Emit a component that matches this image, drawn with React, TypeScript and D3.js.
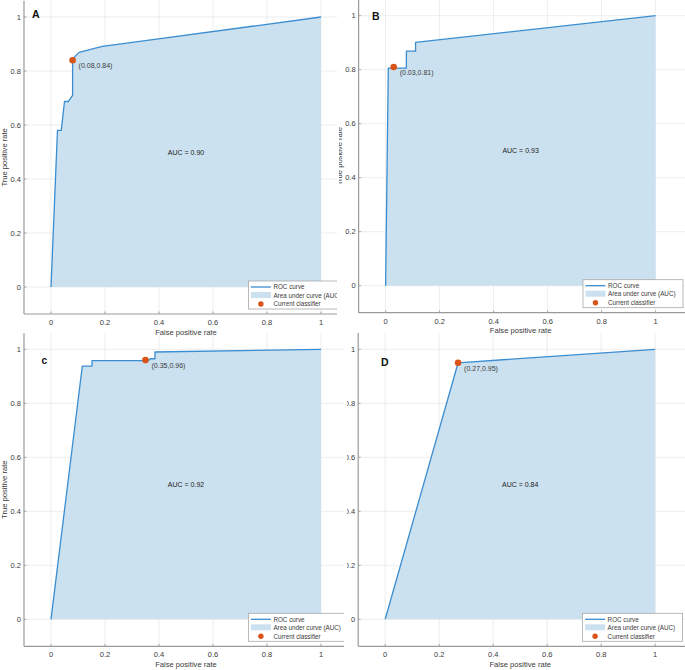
import React from "react";
import * as d3 from "d3";

// ---------- data ----------
const panelLabels = ["A", "B", "c", "D"];

const rocA_fpr = [0, 0.024, 0.038, 0.05, 0.064, 0.08, 0.08, 0.104, 0.19, 0.37, 1];
const rocA_tpr = [0, 0.58, 0.58, 0.687, 0.687, 0.71, 0.845, 0.869, 0.891, 0.915, 1];

const rocB_fpr = [0, 0.01, 0.077, 0.077, 0.111, 0.111, 1];
const rocB_tpr = [0, 0.806, 0.806, 0.869, 0.869, 0.901, 1];

const rocC_fpr = [0, 0.116, 0.152, 0.152, 0.36, 0.368, 0.385, 0.385, 1];
const rocC_tpr = [0, 0.938, 0.938, 0.958, 0.958, 0.965, 0.965, 0.99, 1];

const rocD_fpr = [0, 0.27, 1];
const rocD_tpr = [0, 0.95, 1];

const classifierFpr = [0.08, 0.03, 0.35, 0.27];
const classifierTpr = [0.84, 0.81, 0.96, 0.95];
const classifierLabels = ["(0.08,0.84)", "(0.03,0.81)", "(0.35,0.96)", "(0.27,0.95)"];
const aucLabels = ["AUC = 0.90", "AUC = 0.93", "AUC = 0.92", "AUC = 0.84"];

const tickValues = [0, 0.2, 0.4, 0.6, 0.8, 1];
const tickLabels = ["0", "0.2", "0.4", "0.6", "0.8", "1"];
const legendItems = ["ROC curve", "Area under curve (AUC)", "Current classifier"];
const xLabel = "False positive rate";
const yLabel = "True positive rate";

// ---------- layout ----------
const W = 685;
const H = 670;
const UNIT = 270;
const X_DOMAIN: [number, number] = [-0.1, 1.12];
const Y_DOMAIN: [number, number] = [-0.1, 1.06];

const panels = [
  { fpr: rocA_fpr, tpr: rocA_tpr, x0: 51, y0: 287, clip: [0, 0, 337, 340], letter: [32, 18], letterSize: 10.5 },
  { fpr: rocB_fpr, tpr: rocB_tpr, x0: 385.6, y0: 285.7, clip: [339, 0, 346, 340], letter: [372, 19.5], letterSize: 10.5 },
  { fpr: rocC_fpr, tpr: rocC_tpr, x0: 51, y0: 619.3, clip: [0, 330, 344, 340], letter: [41.5, 363.5], letterSize: 10 },
  { fpr: rocD_fpr, tpr: rocD_tpr, x0: 385.2, y0: 619.3, clip: [347, 330, 338, 340], letter: [381, 366], letterSize: 10.5 },
];

const FONT = "'Liberation Sans', Arial, Helvetica, sans-serif";
const FILL = "#cce1f0";
const LINE = "#3a8dd0";
const DOT = "#d9541a";
const GRID = "#e8e8e8";
const AXIS = "#9a9a9a";
const TEXT = "#3a3a3a";

function Panel({ idx }: { idx: number }) {
  const p = panels[idx];
  const x = d3
    .scaleLinear()
    .domain(X_DOMAIN)
    .range([p.x0 + X_DOMAIN[0] * UNIT, p.x0 + X_DOMAIN[1] * UNIT]);
  const y = d3
    .scaleLinear()
    .domain(Y_DOMAIN)
    .range([p.y0 - Y_DOMAIN[0] * UNIT, p.y0 - Y_DOMAIN[1] * UNIT]);

  const pts: [number, number][] = p.fpr.map((f, i) => [f, p.tpr[i]]);
  const area = d3
    .area<[number, number]>()
    .x((d) => x(d[0]))
    .y0(y(0))
    .y1((d) => y(d[1]));
  const line = d3
    .line<[number, number]>()
    .x((d) => x(d[0]))
    .y((d) => y(d[1]));

  const left = x(X_DOMAIN[0]);
  const right = x(X_DOMAIN[1]);
  const bottom = y(Y_DOMAIN[0]);
  const top = y(Y_DOMAIN[1]);

  const legW = 100;
  const legH = 28;
  const legL = right - 5 - legW;
  const legT = bottom - 5 - legH;

  const cx = x(classifierFpr[idx]);
  const cy = y(classifierTpr[idx]);
  const clipId = `clip-${idx}`;

  return (
    <g clipPath={`url(#${clipId})`}>
      <defs>
        <clipPath id={clipId}>
          <rect x={p.clip[0]} y={p.clip[1]} width={p.clip[2]} height={p.clip[3]} />
        </clipPath>
      </defs>
      {/* grid */}
      {tickValues.map((t) => (
        <line key={`gx${t}`} x1={x(t)} x2={x(t)} y1={top} y2={bottom} stroke={GRID} strokeWidth={0.8} />
      ))}
      {tickValues.map((t) => (
        <line key={`gy${t}`} x1={left} x2={right} y1={y(t)} y2={y(t)} stroke={GRID} strokeWidth={0.8} />
      ))}
      {/* area + line */}
      <path d={area(pts) || ""} fill={FILL} stroke="none" />
      <path d={line(pts) || ""} fill="none" stroke={LINE} strokeWidth={1.3} strokeLinejoin="round" />
      {/* axes */}
      <line x1={left} x2={left} y1={top} y2={bottom} stroke={AXIS} strokeWidth={1.2} />
      <line x1={left} x2={right} y1={bottom} y2={bottom} stroke={AXIS} strokeWidth={1.2} />
      {tickValues.map((t) => (
        <line key={`tx${t}`} x1={x(t)} x2={x(t)} y1={bottom} y2={bottom - 2.5} stroke={AXIS} strokeWidth={0.8} />
      ))}
      {tickValues.map((t) => (
        <line key={`ty${t}`} x1={left} x2={left + 2.5} y1={y(t)} y2={y(t)} stroke={AXIS} strokeWidth={0.8} />
      ))}
      {tickValues.map((t, i) => (
        <text key={`lx${t}`} x={x(t)} y={bottom + 11} fontSize={7.5} textAnchor="middle" fill={TEXT} fontFamily={FONT}>
          {tickLabels[i]}
        </text>
      ))}
      {tickValues.map((t, i) => (
        <text key={`ly${t}`} x={left - 3} y={y(t) + 2.7} fontSize={7.5} textAnchor="end" fill={TEXT} fontFamily={FONT}>
          {tickLabels[i]}
        </text>
      ))}
      <text x={x(0.5)} y={bottom + 20.5} fontSize={7.6} textAnchor="middle" fill={TEXT} fontFamily={FONT}>
        {xLabel}
      </text>
      <text
        transform={`translate(${left - 17},${(top + bottom) / 2}) rotate(-90)`}
        fontSize={7.6}
        textAnchor="middle"
        fill={TEXT}
        fontFamily={FONT}
      >
        {yLabel}
      </text>
      {/* classifier point */}
      <circle cx={cx} cy={cy} r={3.3} fill={DOT} />
      <text x={cx + 6} y={cy + 8} fontSize={7} fill={TEXT} fontFamily={FONT}>
        {classifierLabels[idx]}
      </text>
      {/* AUC */}
      <text x={x(0.5)} y={y(0.5) + 2.5} fontSize={7} textAnchor="middle" fill="#222" fontFamily={FONT}>
        {aucLabels[idx]}
      </text>
      {/* panel letter */}
      <text x={p.letter[0]} y={p.letter[1]} fontSize={p.letterSize} fontWeight="bold" fill="#111" fontFamily={FONT}>
        {panelLabels[idx]}
      </text>
      {/* legend */}
      <rect x={legL} y={legT} width={legW} height={legH} fill="#fff" stroke="#a8a8a8" strokeWidth={0.8} />
      <line x1={legL + 2.5} x2={legL + 22.5} y1={legT + 6} y2={legT + 6} stroke={LINE} strokeWidth={1.3} />
      <rect x={legL + 2.5} y={legT + 11} width={20} height={6} fill={FILL} />
      <circle cx={legL + 12.5} cy={legT + 23} r={2.7} fill={DOT} />
      {legendItems.map((s, i) => (
        <text
          key={s}
          x={legL + 25}
          y={legT + [6, 14.5, 23][i] + 2.2}
          fontSize={6.3}
          fill={TEXT}
          fontFamily={FONT}
        >
          {s}
        </text>
      ))}
    </g>
  );
}

export default function App() {
  return (
    <svg
      width={W}
      height={H}
      viewBox={`0 0 ${W} ${H}`}
      style={{ position: "absolute", left: 0, top: 0, background: "#fff" }}
    >
      <rect x={0} y={0} width={W} height={H} fill="#fff" />
      {panels.map((_, i) => (
        <Panel key={i} idx={i} />
      ))}
    </svg>
  );
}
